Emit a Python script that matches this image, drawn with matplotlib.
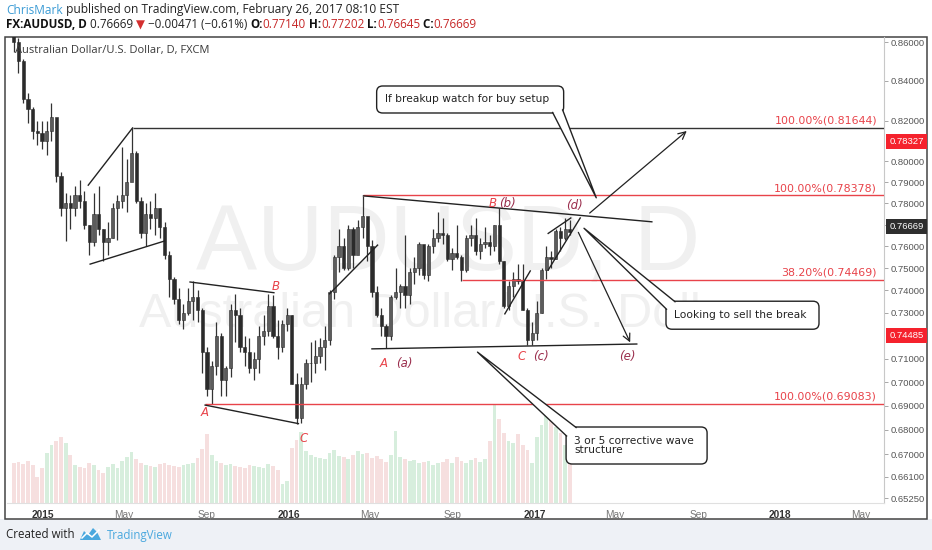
import matplotlib
matplotlib.use("Agg")
import matplotlib.pyplot as plt
import matplotlib.transforms as mtransforms
import numpy as np
import pandas as pd
from matplotlib.patches import FancyBboxPatch, Polygon, Rectangle
from matplotlib.ticker import NullLocator

W, H = 932, 550
RED = "#e8434a"
WAVE = "#9a2d4c"
INK = "#222222"

# weekly candles (week ending Friday)
week_end = pd.date_range("2014-11-21", "2017-02-24", freq="W-FRI")
first_open = 0.8680
closes = [
    # 2014
    0.8600, 0.8500, 0.8310, 0.8260, 0.8150, 0.8140,
    # 2015
    0.8100, 0.8150, 0.8220, 0.7930, 0.7780, 0.7800, 0.7780, 0.7840, 0.7810, 0.7700,
    0.7620, 0.7750, 0.7680, 0.7620, 0.7640, 0.7780, 0.7810, 0.7840, 0.7900, 0.8040,
    0.7810, 0.7660, 0.7750, 0.7730, 0.7780, 0.7690, 0.7560, 0.7450, 0.7360, 0.7270,
    0.7300, 0.7350, 0.7370, 0.7310, 0.7130, 0.6970, 0.7070, 0.7200, 0.7010, 0.7060,
    0.7310, 0.7290, 0.7150, 0.7130, 0.7060, 0.7100, 0.7200, 0.7220, 0.7330, 0.7200,
    0.7150, 0.7250,
    # 2016
    0.7290, 0.6990, 0.6850, 0.6990, 0.7080, 0.7080, 0.7110, 0.7150, 0.7180, 0.7390,
    0.7550, 0.7600, 0.7500, 0.7680, 0.7560, 0.7690, 0.7740, 0.7600, 0.7390, 0.7290,
    0.7240, 0.7200, 0.7370, 0.7390, 0.7420, 0.7380, 0.7480, 0.7500, 0.7610, 0.7470,
    0.7600, 0.7640, 0.7660, 0.7650, 0.7540, 0.7570, 0.7550, 0.7490, 0.7640, 0.7650,
    0.7580, 0.7610, 0.7620, 0.7600, 0.7700, 0.7530, 0.7330, 0.7420, 0.7450, 0.7440,
    0.7310, 0.7180, 0.7210,
    # 2017
    0.7300, 0.7490, 0.7550, 0.7540, 0.7670, 0.7640, 0.7680, 0.7667,
]
highs = [
    0.8720, 0.8620, 0.8510, 0.8340, 0.8270, 0.8200,
    0.8200, 0.8200, 0.8290, 0.8200, 0.7950, 0.7850, 0.7840, 0.7880, 0.7910, 0.7860,
    0.7700, 0.7850, 0.7880, 0.7680, 0.7710, 0.7800, 0.7840, 0.8072, 0.8010, 0.8164,
    0.8050, 0.7830, 0.7800, 0.7810, 0.7850, 0.7780, 0.7710, 0.7580, 0.7460, 0.7410,
    0.7340, 0.7410, 0.7440, 0.7400, 0.7320, 0.7150, 0.7090, 0.7260, 0.7210, 0.7070,
    0.7340, 0.7382, 0.7320, 0.7200, 0.7190, 0.7130, 0.7240, 0.7290, 0.7385, 0.7380,
    0.7270, 0.7270,
    0.7320, 0.7290, 0.7040, 0.7020, 0.7100, 0.7170, 0.7180, 0.7190, 0.7240, 0.7400,
    0.7560, 0.7680, 0.7640, 0.7700, 0.7690, 0.7720, 0.7835, 0.7720, 0.7630, 0.7420,
    0.7320, 0.7250, 0.7380, 0.7500, 0.7430, 0.7650, 0.7500, 0.7550, 0.7620, 0.7600,
    0.7610, 0.7680, 0.7760, 0.7730, 0.7660, 0.7590, 0.7700, 0.7560, 0.7650, 0.7700,
    0.7730, 0.7640, 0.7690, 0.7650, 0.7700, 0.7778, 0.7530, 0.7440, 0.7480, 0.7520,
    0.7520, 0.7320, 0.7260,
    0.7350, 0.7500, 0.7600, 0.7580, 0.7680, 0.7690, 0.7730, 0.7720,
]
lows = [
    0.8550, 0.8440, 0.8290, 0.8190, 0.8110, 0.8080,
    0.8060, 0.8030, 0.8100, 0.7900, 0.7740, 0.7626, 0.7680, 0.7740, 0.7780, 0.7680,
    0.7560, 0.7600, 0.7650, 0.7533, 0.7560, 0.7640, 0.7630, 0.7780, 0.7760, 0.7910,
    0.7800, 0.7640, 0.7600, 0.7680, 0.7650, 0.7640, 0.7540, 0.7370, 0.7340, 0.7250,
    0.7230, 0.7290, 0.7270, 0.7260, 0.7040, 0.6940, 0.6907, 0.7030, 0.6940, 0.6940,
    0.7020, 0.7170, 0.7130, 0.7070, 0.7040, 0.7010, 0.7040, 0.7160, 0.7200, 0.7190,
    0.7100, 0.7130,
    0.7220, 0.6990, 0.6826, 0.6830, 0.6970, 0.7000, 0.7040, 0.7080, 0.7050, 0.7160,
    0.7360, 0.7480, 0.7490, 0.7490, 0.7500, 0.7570, 0.7640, 0.7530, 0.7370, 0.7280,
    0.7200, 0.7145, 0.7180, 0.7360, 0.7320, 0.7320, 0.7340, 0.7430, 0.7470, 0.7450,
    0.7440, 0.7570, 0.7620, 0.7610, 0.7530, 0.7490, 0.7540, 0.7440, 0.7480, 0.7600,
    0.7560, 0.7540, 0.7590, 0.7560, 0.7580, 0.7520, 0.7320, 0.7310, 0.7370, 0.7430,
    0.7310, 0.7160, 0.7160,
    0.7180, 0.7300, 0.7450, 0.7500, 0.7540, 0.7580, 0.7630, 0.7650,
]
# relative tick volume per week (height in pixels on the reference)
volumes = [
    40, 41, 39, 42, 38, 26,
    35, 50, 58, 62, 66, 60, 48,
    38, 36, 35, 40, 38, 33, 30, 36, 39, 35,
    42, 46, 51, 44, 40,
    38, 37, 36, 39, 40, 38, 37, 36, 38, 39, 40, 45, 54,
    69, 48, 42, 40,
    38, 39, 37, 36, 35, 38, 37, 36, 35, 39, 37, 33, 19,
    22, 55, 63, 71, 52, 48, 46,
    45, 44, 50, 53, 47, 46, 44, 48, 52, 49, 50,
    45, 47, 44, 41, 48, 72, 46, 44, 42, 43, 40, 41, 42, 38, 40, 41, 44, 40, 46,
    42, 40, 43, 45, 41, 44,
    62, 99, 84,
    70, 62, 60, 69, 58, 53, 40,
    66, 78, 89, 84, 76, 70, 58, 40,
]

price_ticks = [0.86, 0.84, 0.82, 0.80, 0.79, 0.78, 0.77, 0.76, 0.75, 0.74, 0.73,
               0.71, 0.70, 0.69, 0.68, 0.67, 0.661, 0.6525]
month_ticks = ["2015-01-01", "2015-05-01", "2015-09-01", "2016-01-01", "2016-05-01",
               "2016-09-01", "2017-01-02", "2017-05-01", "2017-09-01", "2018-01-01",
               "2018-05-01"]
month_labels = ["2015", "May", "Sep", "2016", "May", "Sep", "2017", "May", "Sep",
                "2018", "May"]

fib_prices = [0.81644, 0.78378, 0.74469, 0.69083]
fib_labels = ["100.00%(0.81644)", "100.00%(0.78378)", "38.20%(0.74469)",
              "100.00%(0.69083)"]
fib_start = ["2015-05-14", "2016-04-21", "2016-09-15", "2015-08-31"]
fib_colors = ["#333333", RED, RED, RED]

trend_lines = [
    (("2015-03-10", 0.7886), ("2015-05-14", 0.8164)),
    (("2015-03-12", 0.7518), ("2015-07-01", 0.7624)),
    (("2015-08-07", 0.7437), ("2015-12-10", 0.7389)),
    (("2015-08-31", 0.6903), ("2016-01-15", 0.6826)),
    (("2016-03-02", 0.7384), ("2016-05-12", 0.7605)),
    (("2016-04-21", 0.7835), ("2017-06-23", 0.7713)),
    (("2016-05-04", 0.7142), ("2017-06-01", 0.7163)),
    (("2016-11-17", 0.7295), ("2016-12-26", 0.7487)),
    (("2017-01-20", 0.7491), ("2017-03-09", 0.7731)),
    (("2017-01-20", 0.7659), ("2017-02-23", 0.7731)),
]
arrows = [
    (("2017-03-23", 0.7754), ("2017-08-15", 0.8149)),
    (("2017-03-07", 0.7664), ("2017-05-23", 0.7170)),
]
wave_labels = [
    ("A", "2015-08-28", 0.6873, RED), ("B", "2015-12-14", 0.7419, RED),
    ("C", "2016-01-22", 0.6766, RED), ("A", "2016-05-20", 0.7080, RED),
    ("(a)", "2016-06-21", 0.7080, WAVE), ("B", "2016-10-31", 0.7801, RED),
    ("(b)", "2016-11-22", 0.7801, WAVE), ("C", "2016-12-13", 0.7107, RED),
    ("(c)", "2017-01-10", 0.7107, WAVE), ("(d)", "2017-03-01", 0.7788, WAVE),
    ("(e)", "2017-05-18", 0.7107, WAVE),
]

days = pd.bdate_range("2014-06-02", "2018-12-31")
zero = days.searchsorted(pd.Timestamp("2015-01-01"))


def bar(d):
    return days.searchsorted(pd.Timestamp(d)) - zero


fig = plt.figure(figsize=(W / 100, H / 100), dpi=100)
fig.patch.set_facecolor("white")
fig.add_artist(Rectangle((0, 0), 1, (H - 519) / H, transform=fig.transFigure,
                         fc="#eef1f6", ec="none", zorder=0))
fig.add_artist(Rectangle((5 / W, (H - 519) / H), 922 / W, 482 / H,
                         transform=fig.transFigure, fill=False, ec="#444444",
                         lw=1.1, zorder=1))

ax = fig.add_axes([7 / W, (H - 503) / H, 877 / W, 466 / H])
vax = ax.twinx()
ax.set_zorder(3)
vax.set_zorder(2)
ax.patch.set_visible(False)
vax.patch.set_visible(False)

ax.set_yscale("log")
ax.set_ylim(0.65057, 0.86261)
ax.set_xlim(-38.2, 892.3)
vax.set_ylim(0, 466)

# watermark
vax.text(0.503, 0.552, "AUDUSD, D", transform=vax.transAxes, ha="center",
         va="center", fontsize=66, color="#f0f0f0", family="Liberation Sans",
         zorder=0)
vax.text(0.495, 0.405, "Australian Dollar/U.S. Dollar", transform=vax.transAxes,
         ha="center", va="center", fontsize=35, color="#f0f0f0",
         family="Liberation Sans", zorder=0)

x = np.array([bar(d) for d in week_end]) - 2
c = np.array(closes)
o = np.r_[first_open, c[:-1]]
up = c >= o

vax.bar(x, volumes, width=4.0, color=np.where(up, "#8fd0a0", "#e6a6a6"),
        alpha=0.35, lw=0, zorder=1)
vax.axis("off")

ax.vlines(x, lows, highs, color="#333333", lw=0.9, zorder=2)
ax.bar(x, np.abs(c - o), bottom=np.minimum(o, c), width=3.4,
       color=np.where(up, "#5c5c5c", "#2b2b2b"), edgecolor="#2b2b2b",
       linewidth=0.4, zorder=2)

# fib levels
blend = mtransforms.blended_transform_factory(ax.transAxes, ax.transData)
x_right = ax.get_xlim()[1]
for p, lab, st, col in zip(fib_prices, fib_labels, fib_start, fib_colors):
    ax.hlines(p, bar(st), x_right, color=col, lw=1, zorder=3)
    ax.annotate(lab, xy=(0.992, p), xycoords=blend, xytext=(0, 1.5),
                textcoords="offset points", ha="right", va="bottom",
                color=RED, fontsize=7.9, family="DejaVu Sans", zorder=4)

for (d1, p1), (d2, p2) in trend_lines:
    ax.plot([bar(d1), bar(d2)], [p1, p2], color=INK, lw=1, zorder=4)

for (d1, p1), (d2, p2) in arrows:
    ax.annotate("", xy=(bar(d2), p2), xytext=(bar(d1), p1),
                arrowprops=dict(arrowstyle="->", color=INK, lw=0.9,
                                mutation_scale=13, shrinkA=0, shrinkB=0),
                zorder=4)

for lab, d, p, col in wave_labels:
    ax.text(bar(d), p, lab, color=col, fontsize=8.5, style="italic",
            family="DejaVu Sans", ha="center", va="center", zorder=5)

# axes styling
for side in ["top", "left"]:
    ax.spines[side].set_visible(False)
ax.spines["right"].set_color("#c8c8c8")
ax.spines["bottom"].set_color("#e0e0e0")
ax.yaxis.tick_right()
ax.yaxis.set_minor_locator(NullLocator())
ax.set_yticks(price_ticks)
ax.set_yticklabels([f"{t:.5f}" for t in price_ticks])
ax.tick_params(axis="y", length=3, width=0.6, color="#999999", labelsize=6.8,
               labelcolor="#555555", pad=2)
for lbl in ax.get_yticklabels():
    lbl.set_family("Liberation Sans")
ax.set_xticks([bar(d) for d in month_ticks])
ax.set_xticklabels(month_labels)
ax.tick_params(axis="x", length=0, pad=5, labelsize=7.3)
for lbl in ax.get_xticklabels():
    lbl.set_family("Liberation Sans")
    if lbl.get_text().isdigit():
        lbl.set_fontweight("bold")
        lbl.set_color("#333333")
    else:
        lbl.set_color("#777777")

# price tags on the scale
tags = [("0.78327", 0.8095, "#f5222d"), ("0.76669", 0.7690, "#2e2e2e"),
        ("0.74485", 0.7200, "#f5222d")]
for txt, p, col in tags:
    ax.text(1.006, p, txt, transform=blend, ha="left", va="center",
            fontsize=6.8, color="white", family="Liberation Sans", zorder=6,
            bbox=dict(boxstyle="square,pad=0.32", fc=col, ec="none"),
            clip_on=False)

# overlay in pixel units for callouts
ov = fig.add_axes([0, 0, 1, 1])
ov.set_xlim(0, W)
ov.set_ylim(H, 0)
ov.axis("off")
ov.set_zorder(5)


def px(d, p):
    disp = ax.transData.transform((bar(d), p))
    return ov.transData.inverted().transform(disp)


def callout(tip, corner, size, base, text):
    tx, ty = px(*tip)
    bx, by = px(*corner)
    w, h = size
    ov.add_patch(FancyBboxPatch((bx, by), w, h,
                                boxstyle="round,pad=0,rounding_size=6",
                                fc="white", ec=INK, lw=1, zorder=6))
    b1 = (bx + base[0][0], by + base[0][1])
    b2 = (bx + base[1][0], by + base[1][1])
    ov.add_patch(Polygon([(tx, ty), b1, b2], closed=True, fc="white",
                         ec="none", zorder=7))
    ov.plot([b1[0], tx, b2[0]], [b1[1], ty, b2[1]], color=INK, lw=1,
            zorder=8)
    ov.text(bx + 8, by + h / 2, text, ha="left", va="center", fontsize=7.7,
            color=INK, family="DejaVu Sans", linespacing=0.95, zorder=9)


callout(("2017-04-03", 0.7826), ("2016-05-11", 0.8374), (187, 27),
        [(176, 26.5), (186, 24)], "If breakup watch for buy setup")
callout(("2017-03-15", 0.7683), ("2017-07-14", 0.7351), (153, 28),
        [(9, 0.5), (0.5, 8)], "Looking to sell the break")
callout(("2016-10-07", 0.7128), ("2017-02-16", 0.6812), (141, 37),
        [(10, 0.5), (0.5, 9)], "3 or 5 corrective wave\nstructure")

# header
fam = ["Open Sans", "DejaVu Sans"]


def chain(parts, x0, y0, size):
    t = None
    for s, col, wt in parts:
        if t is None:
            t = ov.text(x0, y0, s, color=col, fontweight=wt, fontsize=size,
                        family=fam, va="center", ha="left")
        else:
            t = ov.annotate(s, xy=(1, 0), xycoords=t, va="bottom", ha="left",
                            color=col, fontweight=wt, fontsize=size,
                            family=fam)
    return t


chain([("ChrisMark", "#3a9bd5", "normal"),
       (" published on TradingView.com, February 26, 2017 08:10 EST", INK,
        "normal")], 6, 10, 8.6)
VAL = "#c62828"
chain([("FX:AUDUSD, D", "#111111", "bold"), (" 0.76669 ", INK, "normal"),
       ("\u25bc", "#d32f2f", "normal"),
       (" \u22120.00471 (\u22120.61%) ", INK, "normal"),
       ("O:", "#111111", "bold"), ("0.77140", VAL, "normal"),
       (" H:", "#111111", "bold"), ("0.77202", VAL, "normal"),
       (" L:", "#111111", "bold"), ("0.76645", VAL, "normal"),
       (" C:", "#111111", "bold"), ("0.76669", VAL, "normal")], 6, 25, 8.4)

ov.text(15, 51, "Australian Dollar/U.S. Dollar, D, FXCM", fontsize=8,
        color="#3a3a3a", family=fam, va="center", ha="left")

# footer
ov.text(6, 535, "Created with", fontsize=8.3, color=INK, family=fam,
        va="center", ha="left")
ov.add_patch(Polygon([(80, 540), (84, 531), (88, 535), (93, 528), (97, 532),
                      (101, 540)], closed=True, fc="#4aa8de", ec="none"))
ov.plot([82, 87, 92, 99], [538, 533, 537, 530], color="white", lw=1.1)
ov.text(107, 535, "TradingView", fontsize=8.3, color="#4aa8de", family=fam,
        va="center", ha="left")

fig.savefig("out.png", dpi=100)
